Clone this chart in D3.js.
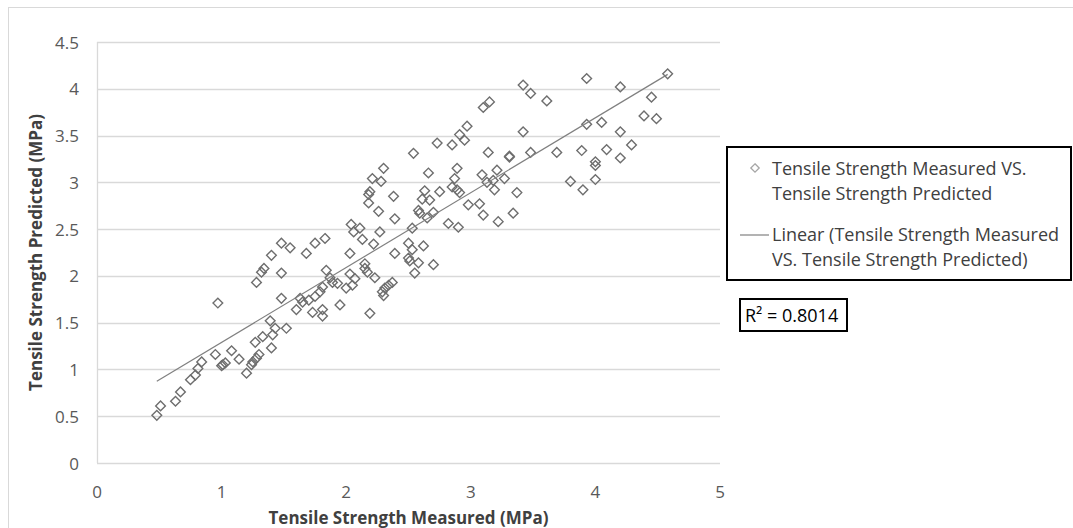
<!DOCTYPE html>
<html>
<head>
<meta charset="utf-8">
<script src="https://cdn.jsdelivr.net/npm/d3@7"></script>
<style>
  body { margin: 0; background: #fff; }
  text { font-family: "Open Sans", Lato, sans-serif; }
</style>
</head>
<body>
<svg id="chart" width="1073" height="528"></svg>
<script>
const width = 1073, height = 528;

// Tensile strength (MPa)
const measured = [
  0.48, 0.51, 0.63, 0.67, 0.75, 0.79, 0.81, 0.84, 0.95, 0.97, 1.00, 1.01, 1.03, 1.08, 1.14, 1.20,
  1.24, 1.25, 1.28, 1.30, 1.27, 1.33, 1.40, 1.39, 1.41, 1.43, 1.52, 1.48, 1.28, 1.32, 1.34, 1.40,
  1.48, 1.55, 1.48, 1.60, 1.63, 1.65, 1.70, 1.68, 1.75, 1.83, 1.75, 1.73, 1.81, 1.81, 1.79, 1.81,
  1.84, 1.87, 1.89, 1.93, 1.95, 2.00, 2.03, 2.05, 2.07, 2.03, 2.04, 2.06, 2.11, 2.13, 2.15, 2.15,
  2.17, 2.19, 2.23, 2.22, 2.27, 2.29, 2.31, 2.34, 2.37, 2.30, 2.39, 2.39, 2.38, 2.26, 2.18, 2.19,
  2.18, 2.21, 2.28, 2.30, 2.50, 2.53, 2.62, 2.50, 2.51, 2.58, 2.55, 2.70, 2.53, 2.58, 2.59, 2.61,
  2.63, 2.67, 2.66, 2.65, 2.70, 2.75, 2.54, 2.73, 2.82, 2.90, 2.85, 2.89, 2.87, 2.89, 2.91, 2.98,
  3.07, 3.10, 3.09, 3.13, 3.18, 3.19, 3.22, 3.21, 2.85, 2.95, 2.91, 2.97, 3.10, 3.15, 3.14, 3.31,
  3.31, 3.27, 3.37, 3.34, 3.42, 3.48, 3.42, 3.48, 3.61, 3.69, 3.80, 3.90, 3.89, 3.93, 3.93, 4.00,
  4.00, 4.00, 4.05, 4.09, 4.20, 4.20, 4.20, 4.29, 4.39, 4.45, 4.49, 4.58
];
const predicted = [
  0.51, 0.61, 0.66, 0.76, 0.89, 0.94, 1.01, 1.08, 1.16, 1.71, 1.04, 1.05, 1.07, 1.20, 1.11, 0.96,
  1.05, 1.08, 1.12, 1.16, 1.29, 1.35, 1.23, 1.52, 1.37, 1.44, 1.44, 1.76, 1.93, 2.04, 2.08, 2.22,
  2.35, 2.30, 2.03, 1.64, 1.76, 1.72, 1.74, 2.24, 2.35, 2.40, 1.78, 1.61, 1.64, 1.57, 1.83, 1.88,
  2.06, 1.98, 1.93, 1.92, 1.69, 1.87, 2.02, 1.90, 1.97, 2.24, 2.55, 2.47, 2.51, 2.39, 2.13, 2.08,
  2.04, 1.60, 1.98, 2.34, 2.47, 1.83, 1.87, 1.90, 1.93, 1.79, 2.24, 2.61, 2.85, 2.69, 2.78, 2.90,
  2.87, 3.04, 3.01, 3.15, 2.35, 2.28, 2.32, 2.19, 2.16, 2.14, 2.03, 2.12, 2.51, 2.70, 2.67, 2.82,
  2.91, 2.81, 3.10, 2.62, 2.68, 2.90, 3.31, 3.42, 2.56, 2.52, 2.95, 3.15, 3.04, 2.92, 2.89, 2.76,
  2.77, 2.65, 3.08, 3.00, 3.02, 2.92, 2.58, 3.13, 3.40, 3.45, 3.51, 3.60, 3.80, 3.86, 3.32, 3.28,
  3.27, 3.04, 2.89, 2.67, 3.54, 3.32, 4.04, 3.95, 3.87, 3.32, 3.01, 2.92, 3.34, 3.62, 4.11, 3.03,
  3.22, 3.18, 3.64, 3.35, 3.54, 3.26, 4.02, 3.40, 3.71, 3.91, 3.68, 4.16
];

const xTicks = [0, 1, 2, 3, 4, 5];
const yTicks = [0, 0.5, 1, 1.5, 2, 2.5, 3, 3.5, 4, 4.5];

const xTitle = "Tensile Strength Measured (MPa)";
const yTitle = "Tensile Strength Predicted (MPa)";
const seriesName = ["Tensile Strength Measured VS.", "Tensile Strength Predicted"];
const trendName = ["Linear (Tensile Strength Measured", "VS. Tensile Strength Predicted)"];
const rSquared = "R² = 0.8014";

const data = measured.map((m, i) => ({ x: m, y: predicted[i] }));

const svg = d3.select("#chart")
  .attr("viewBox", "0 0 " + width + " " + height);

// chart area border
svg.append("rect")
  .attr("x", 8.5).attr("y", 7.5)
  .attr("width", 1070).attr("height", 540)
  .attr("fill", "none")
  .attr("stroke", "#d9d9d9");

const x = d3.scaleLinear().domain([0, 5]).range([97, 720]);
const y = d3.scaleLinear().domain([0, 4.5]).range([463, 42]);

// gridlines
svg.append("g")
  .selectAll("line")
  .data(yTicks)
  .join("line")
  .attr("x1", x(0)).attr("x2", x(5))
  .attr("y1", d => Math.round(y(d)) + 0.5)
  .attr("y2", d => Math.round(y(d)) + 0.5)
  .attr("stroke", "#d9d9d9")
  .attr("stroke-width", 1.3);

// y axis line
svg.append("line")
  .attr("x1", x(0) + 0.5).attr("x2", x(0) + 0.5)
  .attr("y1", y(4.5)).attr("y2", y(0))
  .attr("stroke", "#d9d9d9")
  .attr("stroke-width", 1.3);

// tick labels
svg.append("g")
  .selectAll("text")
  .data(yTicks)
  .join("text")
  .attr("x", 79)
  .attr("y", d => y(d))
  .attr("text-anchor", "end")
  .attr("dominant-baseline", "central")
  .style("font-size", "17px")
  .style("fill", "#595959")
  .text(d => d);

svg.append("g")
  .selectAll("text")
  .data(xTicks)
  .join("text")
  .attr("x", d => x(d))
  .attr("y", 498)
  .attr("text-anchor", "middle")
  .style("font-size", "17px")
  .style("fill", "#595959")
  .text(d => d);

// axis titles
svg.append("text")
  .attr("x", (x(0) + x(5)) / 2)
  .attr("y", 524)
  .attr("text-anchor", "middle")
  .style("font-size", "17px")
  .style("font-weight", "bold")
  .style("fill", "#404040")
  .text(xTitle);

svg.append("text")
  .attr("transform", "translate(42," + (y(0) + y(4.5)) / 2 + ") rotate(-90)")
  .attr("text-anchor", "middle")
  .style("font-size", "17px")
  .style("font-weight", "bold")
  .style("fill", "#404040")
  .text(yTitle);

// linear trendline (least squares)
const mx = d3.mean(measured), my = d3.mean(predicted);
const slope = d3.sum(data, d => (d.x - mx) * (d.y - my)) / d3.sum(data, d => (d.x - mx) * (d.x - mx));
const intercept = my - slope * mx;
const ext = d3.extent(measured);

const diamond = d3.symbol().type(d3.symbolDiamond2).size(60);

svg.append("g")
  .selectAll("path")
  .data(data)
  .join("path")
  .attr("d", diamond)
  .attr("transform", d => "translate(" + x(d.x) + "," + y(d.y) + ")")
  .attr("fill", "none")
  .attr("stroke", "#6e6e6e")
  .attr("stroke-width", 1.4);

svg.append("line")
  .attr("x1", x(ext[0])).attr("y1", y(intercept + slope * ext[0]))
  .attr("x2", x(ext[1])).attr("y2", y(intercept + slope * ext[1]))
  .attr("stroke", "#808080")
  .attr("stroke-width", 1.2);

// legend
const legend = svg.append("g");
legend.append("rect")
  .attr("x", 727).attr("y", 147)
  .attr("width", 344).attr("height", 133)
  .attr("fill", "#fff")
  .attr("stroke", "#000")
  .attr("stroke-width", 2);

legend.append("path")
  .attr("d", d3.symbol().type(d3.symbolDiamond2).size(45))
  .attr("transform", "translate(755,168)")
  .attr("fill", "none")
  .attr("stroke", "#a6a6a6")
  .attr("stroke-width", 1.3);

legend.append("line")
  .attr("x1", 740).attr("x2", 769)
  .attr("y1", 235).attr("y2", 235)
  .attr("stroke", "#808080")
  .attr("stroke-width", 1.2);

legend.selectAll(".series")
  .data(seriesName)
  .join("text")
  .attr("class", "series")
  .attr("x", 772)
  .attr("y", (d, i) => 175 + i * 25)
  .style("font-size", "18px")
  .style("fill", "#404040")
  .text(d => d);

legend.selectAll(".trend")
  .data(trendName)
  .join("text")
  .attr("class", "trend")
  .attr("x", 772)
  .attr("y", (d, i) => 241 + i * 25)
  .style("font-size", "18px")
  .style("fill", "#404040")
  .text(d => d);

// R squared label
svg.append("rect")
  .attr("x", 740).attr("y", 299)
  .attr("width", 107).attr("height", 32)
  .attr("fill", "#fff")
  .attr("stroke", "#000")
  .attr("stroke-width", 2);

svg.append("text")
  .attr("x", 745)
  .attr("y", 322)
  .style("font-size", "18px")
  .style("fill", "#000")
  .text(rSquared);
</script>
</body>
</html>
